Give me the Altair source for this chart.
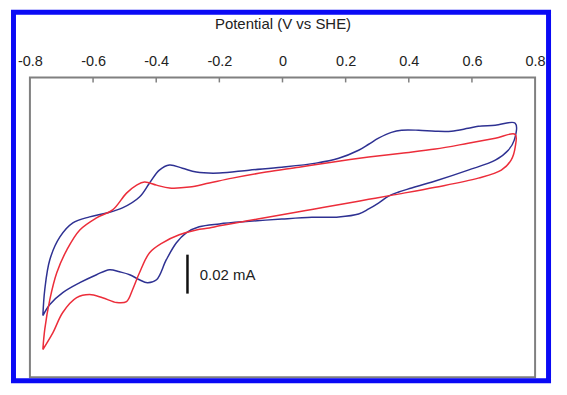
import altair as alt
import pandas as pd

# Potential (V vs SHE) and current (µA), in sweep order
blue_E = [-0.759, -0.753, -0.737, -0.705, -0.664, -0.611, -0.557, -0.507, -0.453, -0.421,
          -0.390, -0.358, -0.317, -0.273, -0.200, -0.106, -0.002, 0.106, 0.178, 0.241,
          0.273, 0.304, 0.345, 0.377, 0.431, 0.484, 0.535, 0.588, 0.620, 0.674, 0.737,
          0.734, 0.715, 0.674, 0.588, 0.484, 0.409, 0.368, 0.336, 0.304, 0.273,
          0.241, 0.178, 0.093, -0.002, -0.106, -0.200, -0.264, -0.305, -0.336, -0.368,
          -0.399, -0.428, -0.453, -0.484, -0.516, -0.548, -0.589, -0.642, -0.696, -0.737, -0.759]
blue_I = [-45.3, -32.0, -16.6, -4.9, 2.3, 5.4, 7.4, 10.0, 15.6, 22.8,
          29.4, 32.0, 30.4, 28.4, 27.9, 29.4, 30.9, 33.0, 35.5, 39.6,
          42.7, 45.8, 48.8, 49.9, 49.9, 49.4, 49.4, 50.9, 51.9, 52.4, 53.5,
          44.8, 39.6, 34.5, 29.4, 23.8, 20.2, 18.2, 16.1, 12.5, 9.5,
          6.9, 5.4, 5.2, 4.3, 3.1, 1.8, 0.3, -2.8, -7.9, -16.6,
          -26.9, -28.4, -26.9, -24.3, -22.8, -21.7, -24.3, -28.4, -33.5, -39.6, -45.3]

red_E = [-0.759, -0.753, -0.737, -0.715, -0.683, -0.642, -0.589, -0.538, -0.494, -0.462,
         -0.437, -0.399, -0.358, -0.295, -0.232, -0.159, -0.052, 0.052, 0.156, 0.273,
         0.377, 0.484, 0.588, 0.674, 0.737,
         0.737, 0.724, 0.693, 0.620, 0.484, 0.352, 0.273, 0.200, 0.093, -0.011,
         -0.106, -0.200, -0.232, -0.273, -0.327, -0.380, -0.421, -0.453, -0.475, -0.494,
         -0.525, -0.570, -0.611, -0.652, -0.696, -0.727, -0.759]
red_I = [-62.7, -52.4, -37.1, -23.3, -11.5, -1.3, 4.9, 9.0, 17.6, 21.7,
         23.3, 21.7, 20.2, 20.7, 22.8, 25.3, 28.4, 30.9, 33.5, 36.1,
         38.1, 40.2, 43.2, 45.8, 47.8,
         41.2, 34.5, 29.4, 25.3, 20.6, 16.7, 14.4, 12.3, 9.2, 6.2,
         3.5, 0.8, -0.3, -1.3, -3.8, -7.9, -13.0, -23.3, -32.0, -38.1,
         -38.6, -36.1, -34.5, -36.1, -43.7, -54.0, -62.7]

x_ticks = [-0.8, -0.6, -0.4, -0.2, 0.0, 0.2, 0.4, 0.6, 0.8]
inner_ticks = [-0.6, -0.4, -0.2, 0.0, 0.2, 0.4, 0.6]

# scale bar: 0.02 mA = 20 µA
bar_E = [-0.301]
bar_I = [-34.0]
bar_I2 = [-14.0]
bar_label = ["0.02 mA"]
bar_label_E = [-0.262]
bar_label_I = [-24.3]

FONT = "Liberation Sans"

rows = []
for i, (e, c) in enumerate(zip(blue_E, blue_I)):
    rows.append({"series": "blue", "idx": i, "E": e, "I": c})
for i, (e, c) in enumerate(zip(red_E, red_I)):
    rows.append({"series": "red", "idx": i, "E": e, "I": c})
df = pd.DataFrame(rows)

xscale = alt.Scale(domain=[-0.8, 0.8], nice=False, zero=False)
yscale = alt.Scale(domain=[-77, 77], nice=False, zero=False)

label_expr = ("datum.value == 0 ? '0' : (datum.value < 0 ? '-' + format(-datum.value, '.1f') "
              ": format(datum.value, '.1f'))")

lines = alt.Chart(df).mark_line(strokeWidth=1.5, interpolate="catmull-rom").encode(
    x=alt.X("E:Q", scale=xscale,
            axis=alt.Axis(orient="top", values=x_ticks, title="Potential (V vs SHE)",
                          tickSize=0, ticks=False, domain=False, grid=False,
                          labelExpr=label_expr, labelFlush=False, labelPadding=9,
                          labelFont=FONT, labelFontSize=14.5, labelColor="#222222",
                          titleFont=FONT, titleFontSize=15, titleFontWeight="normal",
                          titleColor="#222222", titlePadding=22)),
    y=alt.Y("I:Q", scale=yscale, axis=None),
    color=alt.Color("series:N",
                    scale=alt.Scale(domain=["blue", "red"], range=["#2e3192", "#ec2d3a"]),
                    legend=None),
    order=alt.Order("idx:Q"),
)

ticks_df = pd.DataFrame({"E": inner_ticks})
tick_marks = alt.Chart(ticks_df).mark_rule(color="#808080", strokeWidth=1.5).encode(
    x=alt.X("E:Q", scale=xscale),
    y=alt.value(0),
    y2=alt.value(5),
)

bar_df = pd.DataFrame({"E": bar_E, "I": bar_I, "I2": bar_I2})
bar = alt.Chart(bar_df).mark_rule(color="#111111", strokeWidth=2.5).encode(
    x=alt.X("E:Q", scale=xscale),
    y=alt.Y("I:Q", scale=yscale),
    y2="I2:Q",
)

lab_df = pd.DataFrame({"E": bar_label_E, "I": bar_label_I, "t": bar_label})
lab = alt.Chart(lab_df).mark_text(align="left", baseline="middle", font=FONT,
                                  fontSize=15, color="#222222").encode(
    x=alt.X("E:Q", scale=xscale),
    y=alt.Y("I:Q", scale=yscale),
    text="t:N",
)

frame = alt.Chart(pd.DataFrame({"a": [0]})).mark_rect(
    filled=False, stroke="#0a0af5", strokeWidth=5
).encode(
    x=alt.value(-16.5), x2=alt.value(520.5),
    y=alt.value(-65.5), y2=alt.value(304.5),
)

chart = alt.layer(lines, tick_marks, bar, lab, frame).properties(
    width=507, height=301,
    autosize=alt.AutoSizeParams(type="none"),
    padding={"left": 22, "top": 69, "right": 24, "bottom": 12},
    background="white",
).configure_view(stroke="#808080", strokeWidth=2)

chart.save("out.html", embed_options={"renderer": "svg", "actions": False})
